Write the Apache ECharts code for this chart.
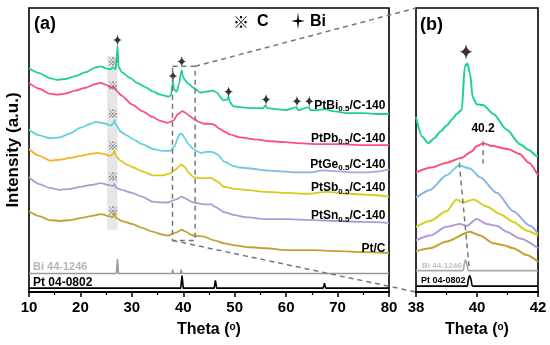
<!DOCTYPE html>
<html><head><meta charset="utf-8">
<script src="https://cdn.jsdelivr.net/npm/echarts@6/dist/echarts.min.js"></script>
<style>html,body{margin:0;padding:0;background:#fff}#c{width:550px;height:345px}</style>
</head><body><div id="c"></div><script>
// ---- Panel (a) data: [theta, intensity (a.u., offset stacked)] ----
const ptBiA = [[10,230],[12,225],[14,220],[15.5,218],[17,219],[19,222],[21,226],[23,231],[24,232],[25,230],[25.8,229],[26.4,231],[26.8,229],[27.0,235],[27.2,253],[27.4,232],[28,226],[29.7,220],[31,215],[32.5,211],[34.2,206],[35.5,203],[37.1,201],[37.6,202],[37.9,214],[38.0,217],[38.2,208],[38.7,206],[39.2,214],[39.5,224],[39.7,228],[39.9,222],[40.3,218],[41,214],[42,210],[43.3,205],[44.5,206],[45.8,207],[46.5,205],[47.8,197],[48.6,198],[48.8,201],[49.0,196],[49.7,191],[51,190],[53,189],[55.5,189],[56.0,192],[56.3,189],[58,188],[60,187],[62.0,190],[62.3,187],[64.4,190],[64.7,187],[66,187],[67.5,188],[69,186],[72,184],[75,184],[78,183],[80,183]];
const ptPbA = [[10,215],[12,209],[14,204],[15.5,203],[17,204],[19,207],[21,210],[23,214],[24,215],[25,213],[26,210],[26.5,211],[27,207],[28,202],[30,193],[32,186],[34,180],[35.5,176],[37,174],[38,176],[39,183],[39.8,186],[40.5,184],[41.2,181],[42,178],[43,175],[44,173],[45,173],[46,172],[47,168],[48,165],[49,162],[51,159],[54,157],[57,155],[60,154],[62,153],[66,152],[70,152],[75,151],[80,151]];
const ptGeA = [[10,167],[12,161],[14.2,158],[16,159],[18,163],[20,169],[22,173],[23,175],[24,174],[25,173],[25.8,171],[26.4,173],[26.6,177],[26.9,172],[27.8,165],[29,161],[30.3,157],[32,152],[34.2,147],[36,145],[37.5,145],[38.3,150],[39,159],[39.4,163],[39.8,162],[40.3,158],[41,152],[42,147],[42.5,145],[43.5,143],[44.5,144],[45.5,144],[46.5,142],[48,134],[49.5,130],[51,128],[53,127],[56,125],[59,124],[62,123],[65,123],[67,125],[70,124],[73,123],[76,123],[78,124],[80,126]];
const ptSbA = [[10,147],[12,140],[14.2,135],[16,136],[18,138],[20,140],[22,142],[23.3,143],[24.5,142],[25.8,140],[26.4,142],[26.6,145],[26.9,140],[27.8,135],[29,131],[30.3,128],[32,124],[34.2,120],[36,120],[37.5,122],[38.5,126],[39.6,131],[40.2,129],[41,123],[42,118],[43,117],[44,117],[45.5,117],[46.5,114],[48,108],[50,106],[52,105],[56,103],[60,102],[64,101],[68,103],[72,101],[76,100],[80,98]];
const ptSnA = [[10,118],[12,111],[14,107],[16,105],[18,106],[20,108],[22,110],[24,112],[25.5,110],[26.3,109],[26.6,111],[27,107],[28,105],[30,102],[32,98],[34,93],[36,92],[37,92],[38.5,95],[39.7,98],[40.5,96],[41.5,93],[42,92],[44,90],[45.5,90],[46,88],[48,82],[50,79],[52,77],[56,75],[60,75],[65,74],[70,73],[75,72],[80,71]];
const ptCA = [[10,83],[12,78],[14,74],[16,73],[18,74],[20,76],[22,78],[24,80],[25.5,78],[26.3,77],[26.6,80],[27,76],[28,73],[30,70],[32,66],[34,62],[36,59],[37,58],[38.5,61],[39.7,64],[40.5,62],[41.5,59],[42,58],[44,57],[46,53],[48,50],[50,48],[53,46],[56,45],[60,43],[65,43],[70,42],[75,41],[80,40]];
// reference patterns (a)
const biRefA = [[10,19],[27.0,19],[27.2,34],[27.4,19],[37.8,19],[37.95,23],[38.1,19],[39.45,19],[39.6,23],[39.75,19],[44.4,19],[44.55,20],[44.7,19],[48.55,19],[48.7,21],[48.85,19],[55.9,19],[56.05,20],[56.2,19],[62.05,19],[62.2,20],[62.35,19],[64.35,19],[64.5,20],[64.65,19],[80,19]];
const ptRefA = [[10,4],[39.5,4],[39.76,17],[40.0,4],[46.0,4],[46.24,12],[46.5,4],[67.2,4],[67.45,9],[67.7,4],[80,4]];
// ---- Panel (b) data ----
const ptBiB = [[38.0,180],[38.2,160],[38.4,153],[38.6,158],[38.8,165],[39.0,171],[39.2,178],[39.33,183],[39.5,187],[39.6,232],[39.68,235],[39.77,225],[39.86,200],[39.99,193],[40.21,192],[40.54,183],[40.97,167],[41.41,152],[41.7,146],[41.96,140],[42,140]];
const ptPbB = [[38,123],[38.5,128],[39,133],[39.5,138],[39.8,144],[40,150],[40.2,153],[40.5,150],[41,147],[41.4,142],[41.7,133],[42,120]];
const ptGeB = [[38,97],[38.46,105],[39.0,120],[39.41,130],[39.77,127],[40.1,118],[40.65,102],[41.19,83],[41.74,68],[42,60]];
const ptSbB = [[38,67],[38.46,73],[39.0,83],[39.33,95],[39.55,92],[39.88,95],[40.32,88],[40.76,80],[41.19,72],[41.63,63],[42,58]];
const ptSnB = [[38,53],[38.46,58],[39.0,67],[39.44,70],[39.66,68],[39.99,75],[40.32,70],[40.65,68],[40.97,62],[41.41,55],[42,45]];
const ptCB = [[38,42],[38.46,45],[39.0,52],[39.77,62],[40.1,58],[40.54,50],[40.87,48],[41.19,45],[41.63,38],[42,31]];
const biRefB = [[38,22],[39.52,22],[39.58,28],[39.62,33],[39.67,28],[39.74,22],[42,22]];
const ptRefB = [[38,6],[39.66,6],[39.71,12],[39.76,17],[39.81,12],[39.87,6],[42,6]];
// annotation markers
const biStarsA = [[27.2,259],[38.0,222],[39.7,237],[48.8,206],[56.1,198],[62.1,196],[64.5,196]];
const biStarsB = [[39.64,247]];
const cMarksA = [[26.35,237],[26.35,212],[26.35,183],[26.35,150],[26.35,118],[26.35,83]];
const labelsA = ['PtBi{s|0.5}/C-140','PtPb{s|0.5}/C-140','PtGe{s|0.5}/C-140','PtSb{s|0.5}/C-140','PtSn{s|0.5}/C-140','Pt/C'];
const labelYA = [192,158,131,107,78,45];
const peakShift = 40.2;

const FONT = 'Liberation Sans, Arial, sans-serif';
const chart = echarts.init(document.getElementById('c'), null, {renderer:'canvas'});
const starPath = 'path://M0,-10 Q1.2,-1.2 9,0 Q1.2,1.2 0,10 Q-1.2,1.2 -9,0 Q-1.2,-1.2 0,-10 Z';
const grad = (stops) => ({type:'linear',x:0,y:0,x2:1,y2:0,colorStops:stops.map(c=>({offset:c[0],color:c[1]}))});
const cGe = grad([[0,'#5bd3dc'],[0.55,'#66d0df'],[0.75,'#9aa8e0'],[1,'#a9a9e2']]);
const cSb = grad([[0,'#ffa928'],[0.18,'#f5b622'],[0.3,'#dcc91c'],[1,'#d0cd1e']]);
const cGeB = {type:'linear',x:0,y:0,x2:0,y2:1,colorStops:[{offset:0,color:'#66d3e0'},{offset:0.35,color:'#8db2e4'},{offset:1,color:'#9aa8e2'}]};
const line = (data, color, xi, w) => ({type:'line', data, xAxisIndex:xi, yAxisIndex:xi, showSymbol:false, smooth:0.25, smoothMonotone:'x', lineStyle:{color, width:w||1.8}, itemStyle:{color: typeof color==='string'?color:'#888'}, z:3, silent:true, animation:false});
const ref = (data, color, xi, sm) => ({type:'line', data, xAxisIndex:xi, yAxisIndex:xi, showSymbol:false, smooth:sm||false, lineStyle:{color, width:1.6}, z:3, silent:true, animation:false});

const xAxisCommon = {
  type:'value', axisLine:{show:true,onZero:false,lineStyle:{color:'#000',width:2}},
  axisTick:{show:true,inside:false,length:5,lineStyle:{color:'#000',width:1.5}},
  minorTick:{show:true,splitNumber:2,length:3,lineStyle:{color:'#000',width:1.2}},
  splitLine:{show:false},
  axisLabel:{color:'#000',fontSize:15,fontWeight:'bold',fontFamily:FONT,margin:8},
  name:'Theta ({o|o})', nameLocation:'middle', nameGap:30,
  nameTextStyle:{color:'#000',fontSize:16,fontWeight:'bold',fontFamily:FONT,rich:{o:{fontSize:10,fontWeight:'bold',fontFamily:FONT,verticalAlign:'top',lineHeight:12,padding:[0,0,8,0]}}}
};
const yAxisCommon = {type:'value',min:0,max:292,show:false};

const option = {
  backgroundColor:'#fff', animation:false,
  grid:[
    {left:29,right:161,top:8,bottom:45,show:true,borderColor:'#000',borderWidth:1.6,containLabel:false},
    {left:416,right:12,top:8,bottom:45,show:true,borderColor:'#000',borderWidth:1.6,containLabel:false}
  ],
  xAxis:[
    Object.assign({},xAxisCommon,{gridIndex:0,min:10,max:80,interval:10}),
    Object.assign({},xAxisCommon,{gridIndex:1,min:38,max:42,interval:2})
  ],
  yAxis:[Object.assign({gridIndex:0},yAxisCommon),Object.assign({gridIndex:1},yAxisCommon)],
  series:[
    Object.assign(line(ptCA,'#c4a132',0),{markArea:{silent:true,itemStyle:{color:'#e6e6e6'},data:[[{xAxis:25.2,yAxis:64},{xAxis:27.2,yAxis:243}]],z:1}}),
    line(ptSnA,'#ae9bd8',0),
    line(ptSbA,cSb,0),
    line(ptGeA,cGe,0),
    line(ptPbA,'#fb4f7c',0),
    line(ptBiA,'#1fd28b',0),
    ref(biRefA,'#9a9a9a',0),
    ref(ptRefA,'#000',0),
    line(ptCB,'#c6a02c',1,2),
    line(ptSnB,'#ae9bd8',1,2),
    line(ptSbB,'#d2d11c',1,2),
    line(ptGeB,cGeB,1,2),
    line(ptPbB,'#fb4f7c',1,2),
    line(ptBiB,'#1fd28b',1,2),
    ref(biRefB,'#a8a8a8',1,0.3),
    ref(ptRefB,'#000',1,0.3),
    {type:'scatter',xAxisIndex:0,yAxisIndex:0,data:biStarsA,symbol:starPath,symbolSize:[9,11],itemStyle:{color:'#000'},z:5,silent:true},
    {type:'scatter',xAxisIndex:1,yAxisIndex:1,data:biStarsB,symbol:starPath,symbolSize:[13,15],itemStyle:{color:'#000'},z:5,silent:true}
  ]
};
chart.setOption(option);

const P = (g, pt) => chart.convertToPixel({gridIndex:g}, pt);
const dash = {stroke:'#777',lineWidth:1.5,lineDash:[5,4],fill:null};
const gfx = [];
const T = (x,y,text,font,fill,align,extra) => gfx.push(Object.assign({type:'text',x,y,z:11,style:Object.assign({text,font,fill:fill||'#000',align:align||'left',verticalAlign:'middle'},extra||{})}));
// zoom box in (a)
const b0 = P(0,[37.9,232]), b1 = P(0,[42.3,53]);
gfx.push({type:'rect',shape:{x:b0[0],y:b0[1],width:b1[0]-b0[0],height:b1[1]-b0[1]},style:dash,z:10});
const tl = P(1,[38,292]), bl = P(1,[38,0]);
gfx.push({type:'line',shape:{x1:b1[0],y1:b0[1],x2:tl[0],y2:tl[1]},style:dash,z:10});
gfx.push({type:'line',shape:{x1:b0[0],y1:b1[1],x2:bl[0],y2:bl[1]},style:dash,z:10});
// peak shift dashed lines in (b)
const d0 = P(1,[39.42,133]), d1 = P(1,[39.75,22]);
gfx.push({type:'line',shape:{x1:d0[0],y1:d0[1],x2:d1[0],y2:d1[1]},style:dash,z:10});
const s0 = P(1,[peakShift,155]), s1 = P(1,[peakShift,132]);
gfx.push({type:'line',shape:{x1:s0[0],y1:s0[1],x2:s1[0],y2:s1[1]},style:dash,z:10});
T(s0[0], s0[1]-13, String(peakShift), 'bold 12px '+FONT, '#000', 'center');
// C marks
cMarksA.forEach(m=>{const p=P(0,m); T(p[0],p[1],'※','bold 11px "Noto Sans CJK SC"','#666','center');});
// curve labels
const rich = {s:{font:'bold 8px '+FONT,fill:'#000',verticalAlign:'bottom',padding:[7,0,0,0]}};
labelsA.forEach((t,i)=>{const p=P(0,[79.3,labelYA[i]]); T(p[0],p[1],t,'bold 12px '+FONT,'#000','right',{rich});});
// panel letters, legend
T(34,24,'(a)','bold 18px '+FONT);
T(420,25,'(b)','bold 18px '+FONT);
T(241,22,'※','bold 16px "Noto Sans CJK SC"','#000','center');
T(257,22,'C','bold 16px '+FONT);
const star = (cx,cy,w,h) => gfx.push({type:'polygon',z:11,shape:{points:[[cx,cy-h],[cx+w*0.14,cy-h*0.14],[cx+w,cy],[cx+w*0.14,cy+h*0.14],[cx,cy+h],[cx-w*0.14,cy+h*0.14],[cx-w,cy],[cx-w*0.14,cy-h*0.14]]},style:{fill:'#000'}});
star(298,21,7,8.5);
T(310,22,'Bi','bold 16px '+FONT);
// reference labels
T(33,P(0,[10,26])[1],'Bi 44-1246','bold 11px '+FONT,'#b5b5b5');
T(33,P(0,[10,10])[1],'Pt 04-0802','bold 12px '+FONT,'#000');
T(422,P(1,[38,27])[1],'Bi 44-1246','bold 8px '+FONT,'#c0c0c0');
T(421,P(1,[38,12])[1],'Pt 04-0802','bold 9px '+FONT,'#000');
// y title
gfx.push({type:'text',x:13,y:150,rotation:Math.PI/2,z:11,style:{text:'Intensity (a.u.)',font:'bold 17px '+FONT,fill:'#000',align:'center',verticalAlign:'middle'}});
chart.setOption({graphic:gfx});
</script></body></html>
